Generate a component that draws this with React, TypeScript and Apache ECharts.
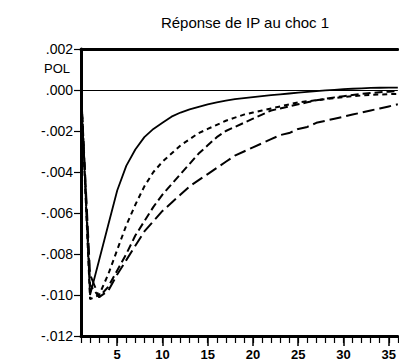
import React, { useEffect, useRef } from "react";
import * as echarts from "echarts";

const periods = Array.from({ length: 36 }, (_, i) => i + 1);

const solidSeries = [
  0, -0.0100, -0.0083, -0.0066, -0.0049, -0.0037, -0.0029, -0.0023, -0.0019, -0.0016,
  -0.0013, -0.0011, -0.00095, -0.00082, -0.00070, -0.00060, -0.00052, -0.00045, -0.00040, -0.00035,
  -0.00030, -0.00025, -0.00021, -0.00017, -0.00013, -0.00009, -0.00005, -0.00002, 0.00001, 0.00004,
  0.00006, 0.00008, 0.00010, 0.00011, 0.00012, 0.00012,
];

const shortDashSeries = [
  0, -0.0102, -0.0100, -0.0090, -0.0078, -0.0066, -0.0056, -0.0047, -0.0040, -0.0035,
  -0.0031, -0.0027, -0.0024, -0.0021, -0.0019, -0.0017, -0.0015, -0.00135, -0.0012, -0.0011,
  -0.0010, -0.0009, -0.0008, -0.0007, -0.0006, -0.00055, -0.0005, -0.00045, -0.0004, -0.00035,
  -0.0003, -0.00027, -0.00024, -0.00022, -0.0002, -0.00019,
];

const mediumDashSeries = [
  0, -0.0095, -0.0101, -0.0096, -0.0088, -0.0080, -0.0071, -0.0064, -0.0057, -0.0051,
  -0.0046, -0.0041, -0.0036, -0.0031, -0.0027, -0.0023, -0.0020, -0.0018, -0.0016, -0.0014,
  -0.0012, -0.0010, -0.0009, -0.0008, -0.0007, -0.0006, -0.0005, -0.00043, -0.00036, -0.0003,
  -0.00024, -0.00019, -0.00015, -0.00011, -0.00008, -0.00005,
];

const longDashSeries = [
  0, -0.0090, -0.0101, -0.0098, -0.0090, -0.0083, -0.0076, -0.0069, -0.0064, -0.0059,
  -0.0055, -0.0051, -0.0047, -0.0044, -0.0041, -0.0038, -0.0035, -0.0032, -0.0030, -0.0028,
  -0.0026, -0.0024, -0.0022, -0.0021, -0.0019, -0.0018, -0.0016, -0.0015, -0.0014, -0.0013,
  -0.0012, -0.0011, -0.0010, -0.0009, -0.0008, -0.0007,
];

const xMajorLabels = [5, 10, 15, 20, 25, 30, 35];
const titleText = "Réponse de IP au choc 1";
const yAxisName = "POL";

const FONT = "'Liberation Sans', Arial, sans-serif";

export default function App() {
  const ref = useRef<HTMLDivElement>(null);

  useEffect(() => {
    if (!ref.current) return;
    const chart = echarts.init(ref.current, null, { renderer: "svg" });
    const mk = (vals: number[]) => periods.map((p, i) => [p, vals[i]]);
    const lineSeries = (name: string, vals: number[], type: any, width: number) => ({
      name,
      type: "line",
      data: mk(vals),
      showSymbol: false,
      symbol: "none",
      xAxisIndex: 0,
      yAxisIndex: 0,
      lineStyle: { color: "#000", width, type },
      z: 3,
    });
    chart.setOption({
      animation: false,
      backgroundColor: "#fff",
      grid: { left: 81, right: -1, top: 49, bottom: 27, containLabel: false },
      graphic: [
        {
          type: "text",
          x: 245,
          y: 22,
          style: {
            text: titleText,
            font: `15px ${FONT}`,
            fill: "#000",
            textAlign: "center",
            textVerticalAlign: "middle",
          },
        },
        {
          type: "text",
          x: 44,
          y: 68,
          style: {
            text: yAxisName,
            font: `13px ${FONT}`,
            fill: "#000",
            textAlign: "left",
            textVerticalAlign: "middle",
          },
        },
      ],
      xAxis: [
        {
          type: "value",
          min: 1,
          max: 36,
          position: "bottom",
          splitLine: { show: false },
          axisLine: { show: true, onZero: false, lineStyle: { color: "#000", width: 3 } },
          axisTick: {
            show: true,
            customValues: xMajorLabels,
            length: 10,
            lineStyle: { color: "#000", width: 1.5 },
          },
          axisLabel: {
            show: true,
            customValues: xMajorLabels,
            margin: 12,
            color: "#000",
            fontFamily: FONT,
            fontSize: 13,
            fontWeight: "bold",
          },
        },
        {
          type: "value",
          min: 1,
          max: 36,
          position: "bottom",
          splitLine: { show: false },
          axisLine: { show: false, onZero: false },
          axisTick: {
            show: true,
            customValues: periods,
            length: 7,
            lineStyle: { color: "#000", width: 1.2 },
          },
          axisLabel: { show: false },
        },
        {
          type: "value",
          min: 1,
          max: 36,
          position: "top",
          splitLine: { show: false },
          axisLine: { show: true, onZero: false, lineStyle: { color: "#000", width: 3 } },
          axisTick: { show: false },
          axisLabel: { show: false },
        },
      ],
      yAxis: {
        type: "value",
        min: -0.012,
        max: 0.002,
        interval: 0.002,
        splitLine: { show: false },
        axisLine: { show: true, onZero: false, lineStyle: { color: "#000", width: 3 } },
        axisTick: { show: true, length: 7, lineStyle: { color: "#000", width: 1.2 } },
        axisLabel: {
          color: "#000",
          fontFamily: FONT,
          fontSize: 14,
          margin: 8,
          formatter: (v: number) => {
            const s = v.toFixed(3);
            return s.replace("0.", ".");
          },
        },
      },
      series: [
        {
          ...lineSeries("solid", solidSeries, "solid", 1.8),
          markLine: {
            silent: true,
            symbol: "none",
            label: { show: false },
            lineStyle: { color: "#000", width: 1.2, type: "solid" },
            data: [{ yAxis: 0 }],
          },
        },
        lineSeries("short", shortDashSeries, [5, 4], 2),
        lineSeries("medium", mediumDashSeries, [8, 4], 2),
        lineSeries("long", longDashSeries, [12, 5], 2),
      ],
    });
    return () => chart.dispose();
  }, []);

  return (
    <div
      ref={ref}
      style={{ position: "absolute", left: 0, top: 0, width: 399, height: 363 }}
    />
  );
}
